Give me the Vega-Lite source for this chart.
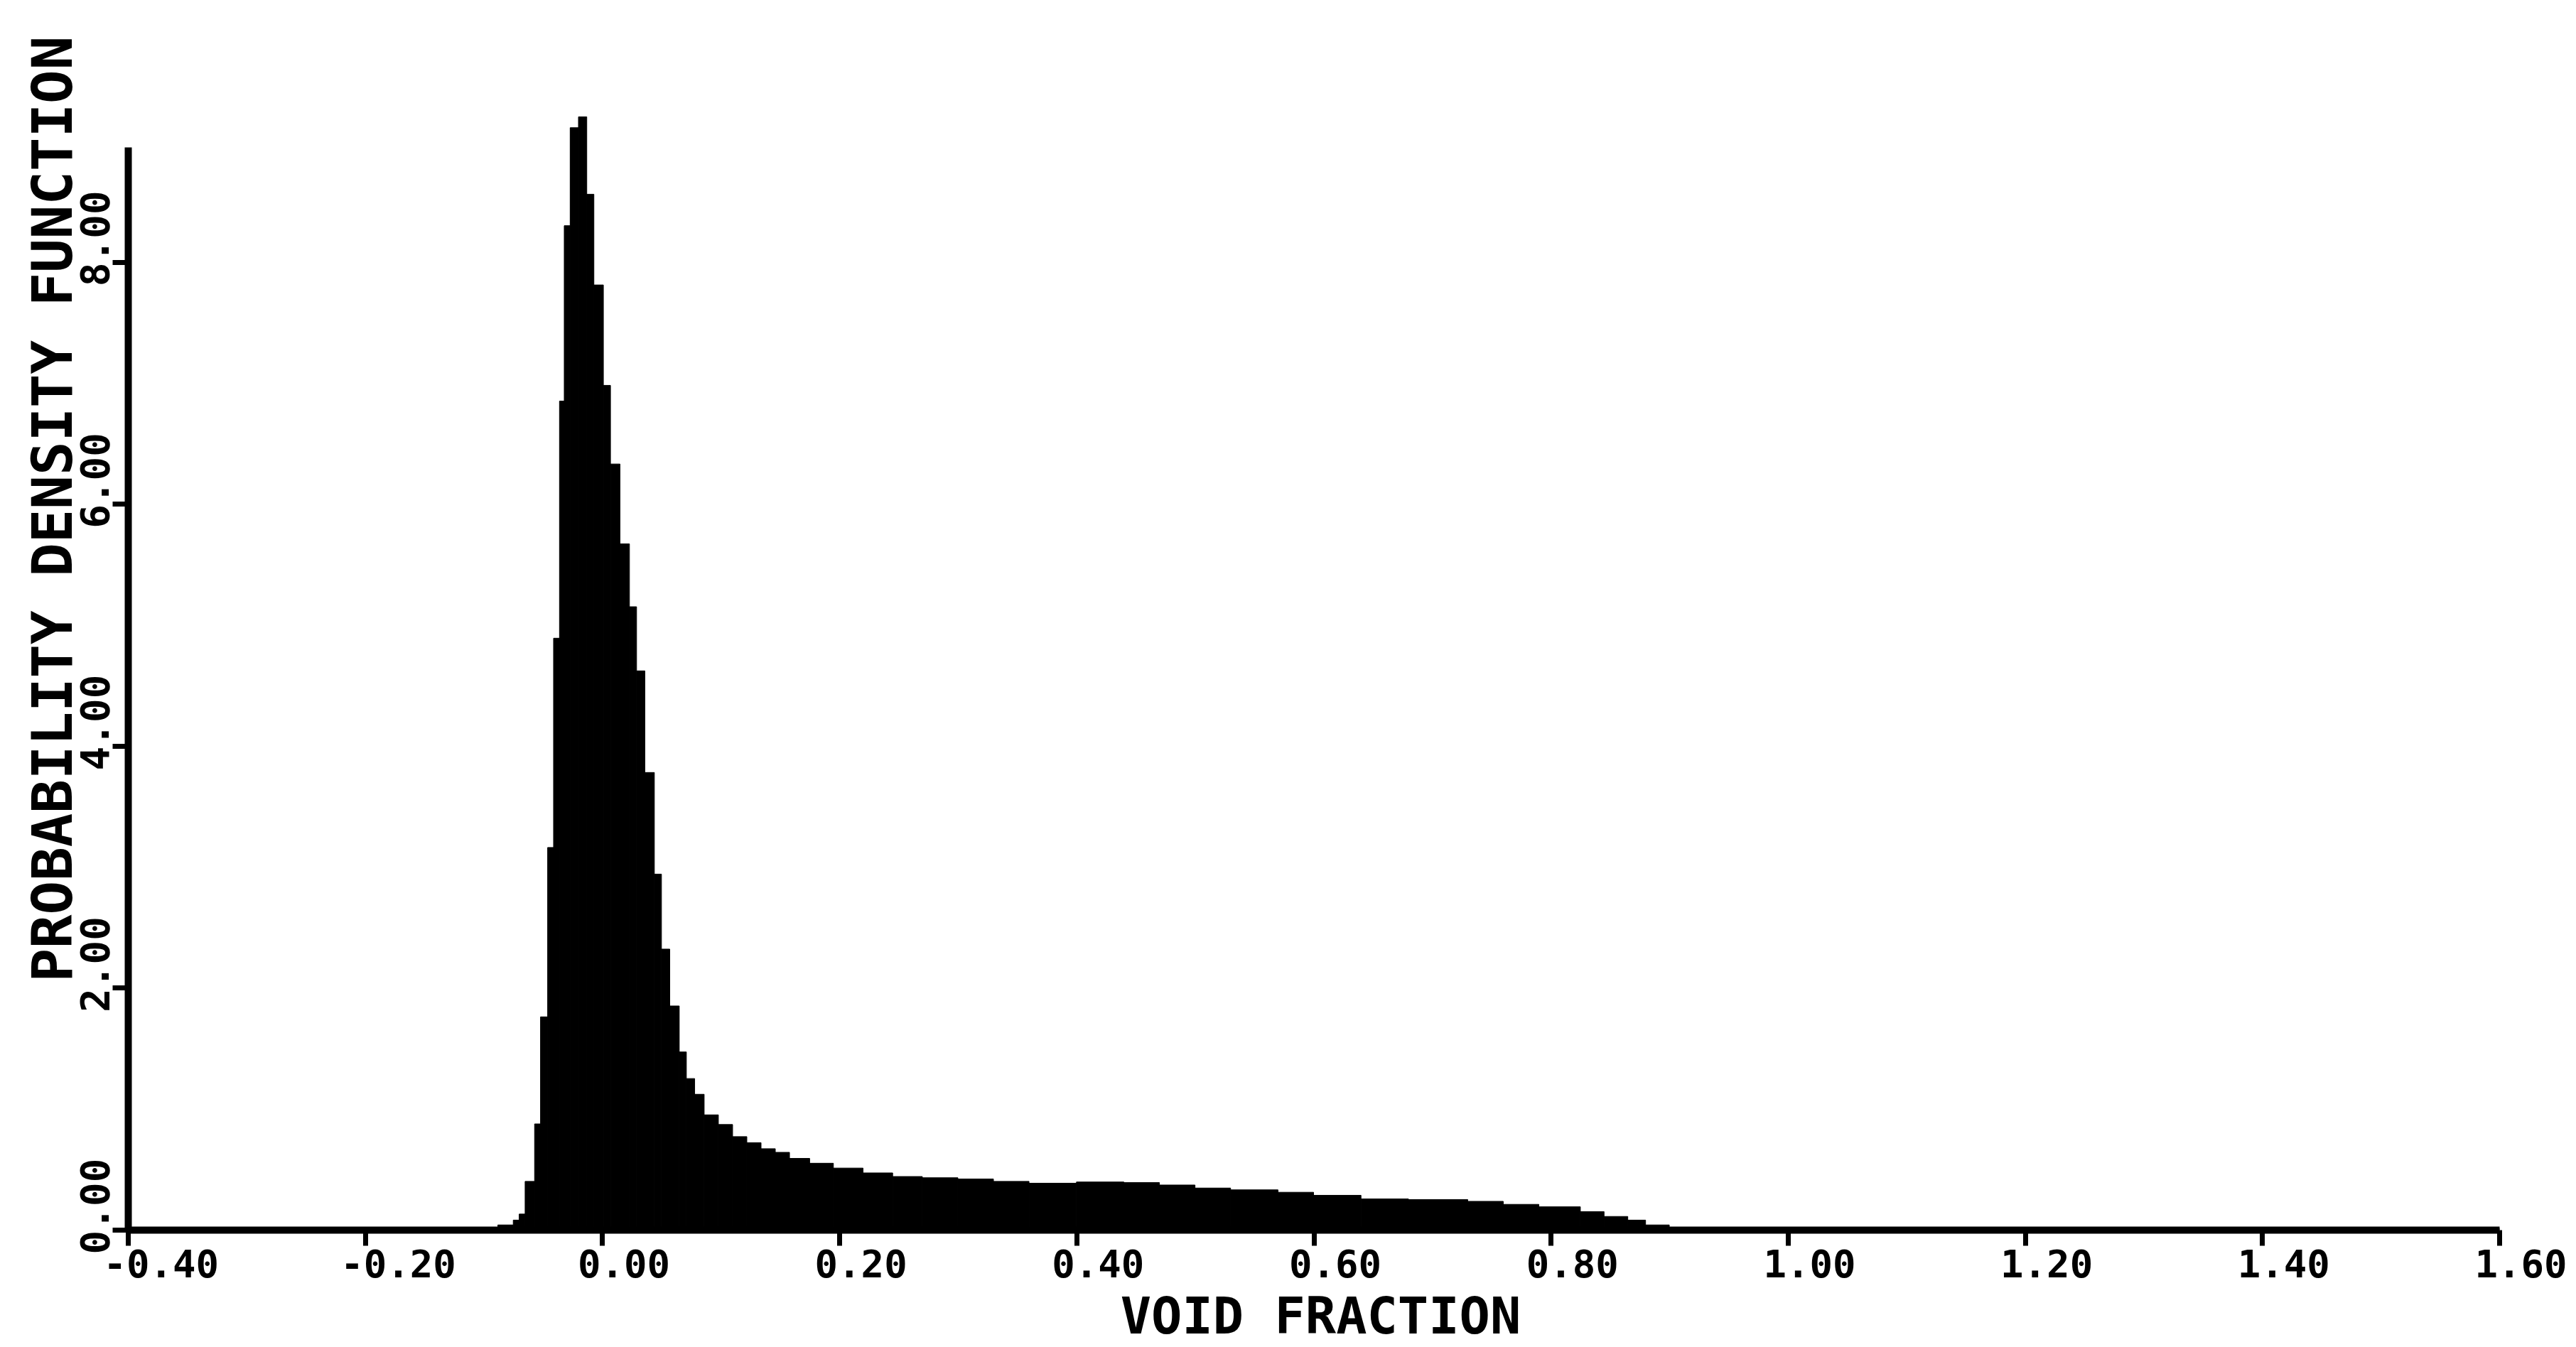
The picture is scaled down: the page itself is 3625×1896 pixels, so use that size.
{
  "$schema": "https://vega.github.io/schema/vega-lite/v6.json",
  "autosize": {"type": "none"},
  "padding": {"left": 180, "top": 207, "right": 108, "bottom": 165},
  "width": 3337,
  "height": 1524,
  "background": "white",
  "config": {"view": {"stroke": null}},
  "data": {"values": [
    {"x0": -0.400, "x1": -0.088, "pdf": 0.015},
    {"x0": -0.088, "x1": -0.075, "pdf": 0.04},
    {"x0": -0.075, "x1": -0.070, "pdf": 0.08},
    {"x0": -0.070, "x1": -0.065, "pdf": 0.13},
    {"x0": -0.065, "x1": -0.057, "pdf": 0.40},
    {"x0": -0.057, "x1": -0.052, "pdf": 0.875},
    {"x0": -0.052, "x1": -0.046, "pdf": 1.76},
    {"x0": -0.046, "x1": -0.041, "pdf": 3.16},
    {"x0": -0.041, "x1": -0.036, "pdf": 4.89},
    {"x0": -0.036, "x1": -0.032, "pdf": 6.85},
    {"x0": -0.032, "x1": -0.027, "pdf": 8.30},
    {"x0": -0.027, "x1": -0.020, "pdf": 9.11},
    {"x0": -0.020, "x1": -0.013, "pdf": 9.20},
    {"x0": -0.013, "x1": -0.007, "pdf": 8.56},
    {"x0": -0.007, "x1": 0.001, "pdf": 7.81},
    {"x0": 0.001, "x1": 0.007, "pdf": 6.98},
    {"x0": 0.007, "x1": 0.015, "pdf": 6.33},
    {"x0": 0.015, "x1": 0.023, "pdf": 5.67},
    {"x0": 0.023, "x1": 0.029, "pdf": 5.15},
    {"x0": 0.029, "x1": 0.036, "pdf": 4.62},
    {"x0": 0.036, "x1": 0.044, "pdf": 3.78},
    {"x0": 0.044, "x1": 0.050, "pdf": 2.94},
    {"x0": 0.050, "x1": 0.057, "pdf": 2.32},
    {"x0": 0.057, "x1": 0.065, "pdf": 1.85},
    {"x0": 0.065, "x1": 0.071, "pdf": 1.47},
    {"x0": 0.071, "x1": 0.078, "pdf": 1.25},
    {"x0": 0.078, "x1": 0.086, "pdf": 1.12},
    {"x0": 0.086, "x1": 0.098, "pdf": 0.95},
    {"x0": 0.098, "x1": 0.110, "pdf": 0.87},
    {"x0": 0.110, "x1": 0.122, "pdf": 0.77},
    {"x0": 0.122, "x1": 0.134, "pdf": 0.72},
    {"x0": 0.134, "x1": 0.146, "pdf": 0.67},
    {"x0": 0.146, "x1": 0.158, "pdf": 0.64},
    {"x0": 0.158, "x1": 0.175, "pdf": 0.59},
    {"x0": 0.175, "x1": 0.195, "pdf": 0.55},
    {"x0": 0.195, "x1": 0.220, "pdf": 0.51},
    {"x0": 0.220, "x1": 0.245, "pdf": 0.47},
    {"x0": 0.245, "x1": 0.270, "pdf": 0.44},
    {"x0": 0.270, "x1": 0.300, "pdf": 0.43},
    {"x0": 0.300, "x1": 0.330, "pdf": 0.42},
    {"x0": 0.330, "x1": 0.360, "pdf": 0.40},
    {"x0": 0.360, "x1": 0.400, "pdf": 0.385},
    {"x0": 0.400, "x1": 0.440, "pdf": 0.395},
    {"x0": 0.440, "x1": 0.470, "pdf": 0.39},
    {"x0": 0.470, "x1": 0.500, "pdf": 0.37},
    {"x0": 0.500, "x1": 0.530, "pdf": 0.345},
    {"x0": 0.530, "x1": 0.570, "pdf": 0.33},
    {"x0": 0.570, "x1": 0.600, "pdf": 0.31},
    {"x0": 0.600, "x1": 0.640, "pdf": 0.285},
    {"x0": 0.640, "x1": 0.680, "pdf": 0.255},
    {"x0": 0.680, "x1": 0.730, "pdf": 0.25},
    {"x0": 0.730, "x1": 0.760, "pdf": 0.235},
    {"x0": 0.760, "x1": 0.790, "pdf": 0.21},
    {"x0": 0.790, "x1": 0.825, "pdf": 0.19},
    {"x0": 0.825, "x1": 0.845, "pdf": 0.15},
    {"x0": 0.845, "x1": 0.865, "pdf": 0.11},
    {"x0": 0.865, "x1": 0.880, "pdf": 0.08},
    {"x0": 0.880, "x1": 0.900, "pdf": 0.04},
    {"x0": 0.900, "x1": 1.600, "pdf": 0.012}
  ]},
  "mark": {"type": "rect", "color": "black", "stroke": "black", "strokeWidth": 1},
  "encoding": {
    "x": {
      "field": "x0", "type": "quantitative",
      "scale": {"domain": [-0.4, 1.6], "nice": false, "zero": false},
      "axis": {
        "title": "VOID FRACTION",
        "values": [-0.4, -0.2, 0, 0.2, 0.4, 0.6, 0.8, 1.0, 1.2, 1.4, 1.6],
        "labelExpr": "replace(format(datum.value, '.2f'), '−', '-')",
        "grid": false,
        "domainColor": "black", "domainWidth": 10,
        "tickColor": "black", "tickWidth": 7, "tickSize": 22,
        "labelFont": "DejaVu Sans Mono", "labelFontWeight": "bold", "labelFontSize": 54, "labelColor": "black",
        "labelAlign": "left", "labelBaseline": "alphabetic", "labelPadding": 44, "labelOffset": -35,
        "labelFlush": false, "labelOverlap": false, "labelBound": false,
        "titleFont": "DejaVu Sans Mono", "titleFontWeight": "bold", "titleFontSize": 72, "titleColor": "black",
        "titleAlign": "center", "titleBaseline": "alphabetic", "titleX": 1678, "titleY": 145, "titleAngle": 0
      }
    },
    "x2": {"field": "x1"},
    "y": {
      "field": "pdf", "type": "quantitative",
      "scale": {"domain": [0, 8.95], "nice": false, "zero": true},
      "axis": {
        "title": "PROBABILITY DENSITY FUNCTION",
        "values": [0, 2, 4, 6, 8],
        "labelExpr": "format(datum.value, '.2f')",
        "grid": false,
        "domainColor": "black", "domainWidth": 10,
        "tickColor": "black", "tickWidth": 7, "tickSize": 22,
        "labelFont": "DejaVu Sans Mono", "labelFontWeight": "bold", "labelFontSize": 56, "labelColor": "black",
        "labelAngle": 270, "labelAlign": "left", "labelBaseline": "alphabetic", "labelPadding": 6, "labelOffset": 34,
        "labelFlush": false, "labelOverlap": false, "labelBound": false,
        "titleFont": "DejaVu Sans Mono", "titleFontWeight": "bold", "titleFontSize": 79, "titleColor": "black",
        "titleAngle": 270, "titleAlign": "left", "titleBaseline": "alphabetic", "titleX": -80, "titleY": 1175
      }
    },
    "y2": {"datum": 0}
  }
}
